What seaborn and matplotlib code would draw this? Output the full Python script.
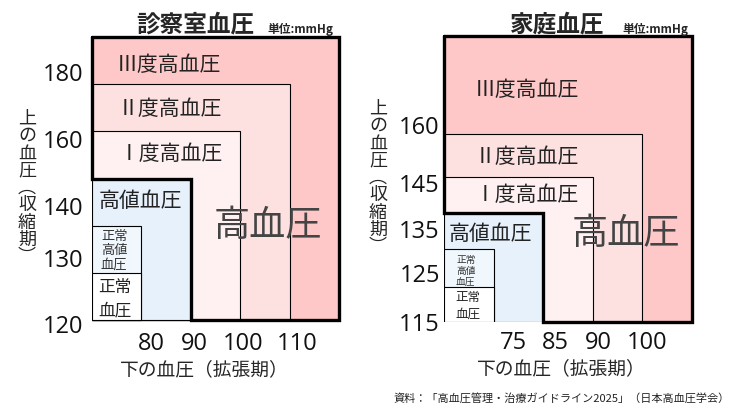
import numpy as np
import matplotlib
matplotlib.use("Agg")
import matplotlib.pyplot as plt
import seaborn as sns

# ---------------- data ----------------
categories = ["正常血圧", "正常高値血圧", "高値血圧", "Ⅰ度高血圧", "Ⅱ度高血圧", "Ⅲ度高血圧"]
box_labels = ["正常\n血圧", "正常\n高値\n血圧", "高値血圧", "Ⅰ度高血圧", "Ⅱ度高血圧", "Ⅲ度高血圧"]
# number of diastolic / systolic classes covered by each category box
dbp_rank = [1, 1, 2, 3, 4, 5]
sbp_rank = [1, 2, 3, 4, 5, 6]
first_hypertension = 3  # index of "Ⅰ度高血圧"

office_sbp_ticks = ["120", "130", "140", "160", "180"]
office_dbp_ticks = ["80", "90", "100", "110"]
home_sbp_ticks = ["115", "125", "135", "145", "160"]
home_dbp_ticks = ["75", "85", "90", "100"]

titles = ["診察室血圧", "家庭血圧"]
unit = "単位:mmHg"
xlabel = "下の血圧（拡張期）"
ylabel = "上の血圧︵収縮期︶"
big_label = "高血圧"
source = "資料：「高血圧管理・治療ガイドライン2025」（日本高血圧学会）"

colors = ["#ffffff", "#f0f8fd", "#e6f1fb", "#fff1f1", "#fde1e1", "#ffc8c8"]

# ---------------- style ----------------
sns.set_theme(style="white")
JP = ["Noto Sans CJK JP", "DejaVu Sans"]
NUM = ["Open Sans", "DejaVu Sans"]
plt.rcParams["font.family"] = JP

W, H = 736, 414
fig = plt.figure(figsize=(W / 100, H / 100), dpi=100)
fig.patch.set_facecolor("white")


def px_axes(l, t, r, b):
    return fig.add_axes([l / W, 1 - b / H, (r - l) / W, (b - t) / H])


axL = px_axes(92, 38, 339, 324)
axR = px_axes(444, 37, 692, 323)

# right chart rows are not equally tall: map class levels to pixel heights
rowR = np.array([0, 35, 73, 109, 145, 188, 286], float)
levels = np.arange(len(rowR), dtype=float)
axR.set_yscale("function",
               functions=(lambda v: np.interp(v, levels, rowR),
                          lambda v: np.interp(v, rowR, levels)))


def draw(ax, yt, ytpos, xt, xtpos, tpos, small_fs, small_ls, normal_fs, normal_ls, ypad):
    n = len(categories)
    for i in reversed(range(n)):
        ax.bar(0, sbp_rank[i], width=dbp_rank[i], align="edge", color=colors[i],
               edgecolor="black", linewidth=0.8, zorder=1)
    top, right = sbp_rank[-1], dbp_rank[-1]
    ix, iy = dbp_rank[first_hypertension - 1], sbp_rank[first_hypertension - 1]
    ax.plot([0, right, right, ix, ix, 0, 0], [top, top, 0, 0, iy, iy, top],
            color="black", lw=2.4, solid_joinstyle="miter", clip_on=False, zorder=5)
    ax.set_xlim(0, right)
    ax.set_ylim(0, top)
    ax.set_xticks(xtpos, xt)
    ax.set_yticks(ytpos, yt)
    ax.tick_params(length=0, labelsize=17, colors="#111111")
    ax.tick_params(axis="y", pad=ypad)
    ax.tick_params(axis="x", pad=6)
    for lab in ax.get_xticklabels() + ax.get_yticklabels():
        lab.set_fontfamily(NUM)
    sns.despine(ax=ax, left=True, bottom=True, top=True, right=True)
    ax.grid(False)
    ax.set_facecolor("none")
    for i, (x, y) in enumerate(tpos):
        if i == 0:
            fs, ls = normal_fs, normal_ls
        elif i == 1:
            fs, ls = small_fs, small_ls
        else:
            fs, ls = 15, 1.2
        ax.text(x, y, box_labels[i], ha="center", va="center", fontsize=fs,
                linespacing=ls, color="#222222" if i != 1 else "#333333", zorder=6)


# text positions (in class-level units)
posL = [(0.47, 0.47), (0.45, 1.49), (0.97, 2.54), (1.6, 3.55), (1.58, 4.49), (1.56, 5.43)]
posR = [(0.48, 0.49), (0.44, 1.45), (0.93, 2.44), (1.67, 3.53), (1.67, 4.49), (1.67, 5.46)]

draw(axL, office_sbp_ticks, [-0.06, 1.34, 2.45, 3.86, 5.28], office_dbp_ticks,
     [1.21, 2.08, 3.06, 4.15], posL, 9.5, 1.15, 12, 1.5, 6)
draw(axR, home_sbp_ticks, [0.03, 1.39, 2.58, 3.86, 5.1], home_dbp_ticks,
     [1.39, 2.24, 3.11, 4.09], posR, 7, 1.1, 9, 1.4, 3)

axL.text(3.56, 2.01, big_label, ha="center", va="center", fontsize=26, color="#444444", zorder=6)
axR.text(3.67, 2.44, big_label, ha="center", va="center", fontsize=26, color="#444444", zorder=6)


def ftext(x, y, s, **kw):
    fig.text(x / W, 1 - y / H, s, **kw)


ftext(195, 24, titles[0], ha="center", va="center", fontsize=17, fontweight="bold")
ftext(557, 24, titles[1], ha="center", va="center", fontsize=17, fontweight="bold")
ftext(300, 29, unit, ha="center", va="center", fontsize=8.5, fontweight="bold")
ftext(655, 29, unit, ha="center", va="center", fontsize=8.5, fontweight="bold")

ftext(204, 370, xlabel, ha="center", va="center", fontsize=13.5)
ftext(561, 369, xlabel, ha="center", va="center", fontsize=13.5)

vlab = "\n".join(ylabel)
ftext(27, 188, vlab, ha="center", va="center", fontsize=13, linespacing=0.95)
ftext(378, 178, vlab, ha="center", va="center", fontsize=13, linespacing=0.95)

ftext(562, 398, source, ha="center", va="center", fontsize=8, color="#222222")

fig.savefig("out.png", dpi=100, facecolor="white")
